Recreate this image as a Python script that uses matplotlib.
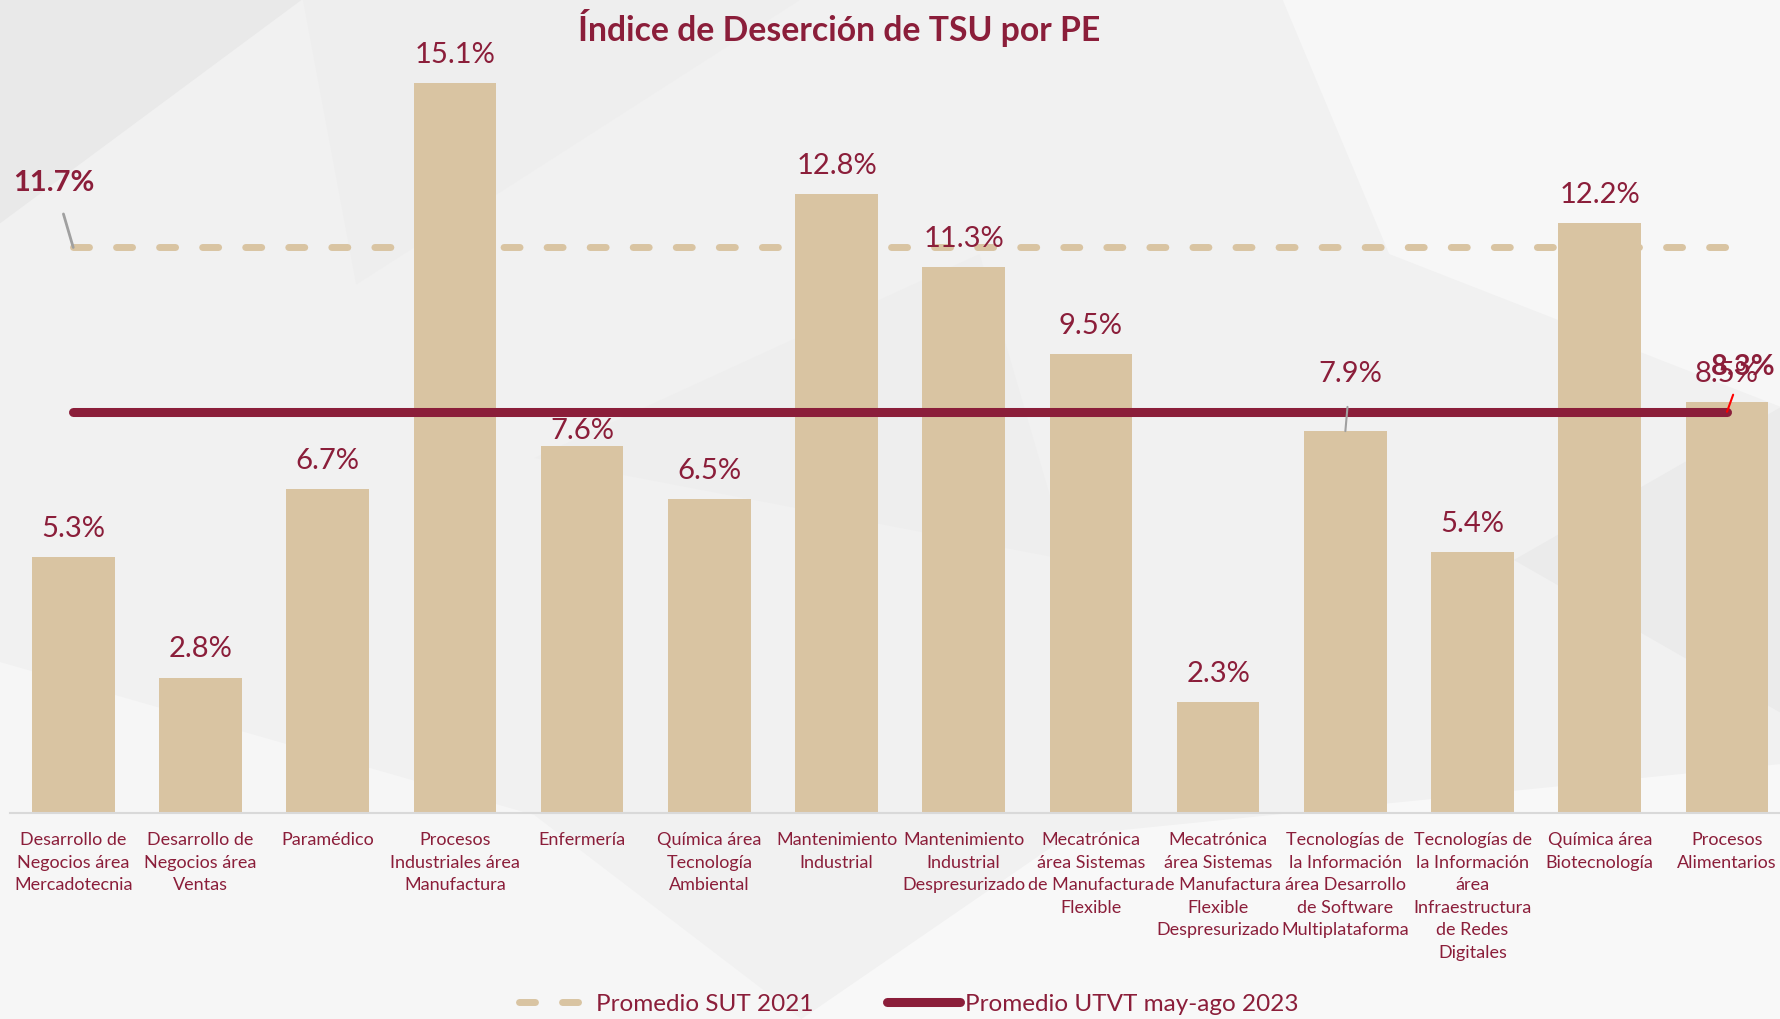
import matplotlib
matplotlib.use("Agg")
import matplotlib.pyplot as plt
from matplotlib.patches import Polygon

# data
categories = [
    "Desarrollo de\nNegocios área\nMercadotecnia",
    "Desarrollo de\nNegocios área\nVentas",
    "Paramédico",
    "Procesos\nIndustriales área\nManufactura",
    "Enfermería",
    "Química área\nTecnología\nAmbiental",
    "Mantenimiento\nIndustrial",
    "Mantenimiento\nIndustrial\nDespresurizado",
    "Mecatrónica\nárea Sistemas\nde Manufactura\nFlexible",
    "Mecatrónica\nárea Sistemas\nde Manufactura\nFlexible\nDespresurizado",
    "Tecnologías de\nla Información\nárea Desarrollo\nde Software\nMultiplataforma",
    "Tecnologías de\nla Información\nárea\nInfraestructura\nde Redes\nDigitales",
    "Química área\nBiotecnología",
    "Procesos\nAlimentarios",
]
desercion = [5.3, 2.8, 6.7, 15.1, 7.6, 6.5, 12.8, 11.3, 9.5, 2.3, 7.9, 5.4, 12.2, 8.5]
promedio_sut_2021 = 11.7
promedio_utvt_2023 = 8.3

RED = "#8B1E3A"
TAN = "#D9C4A2"
plt.rcParams["font.family"] = ["Lato", "DejaVu Sans"]

fig = plt.figure(figsize=(17.81, 10.20), dpi=100)
fig.patch.set_facecolor("#f1f1f1")

# soft polygon background
shapes = [
    ([(0, 1), (0.17, 1), (0, 0.78)], "#e9e9e9"),
    ([(0.17, 1), (0.45, 1), (0.2, 0.72)], "#eeeeee"),
    ([(0.72, 1), (1, 1), (1, 0.6), (0.78, 0.75)], "#f7f7f7"),
    ([(0, 0.35), (0.3, 0.2), (0.45, 0), (0, 0)], "#f6f6f6"),
    ([(0.45, 0), (0.6, 0.18), (1, 0.25), (1, 0)], "#f8f8f8"),
    ([(0.3, 0.55), (0.55, 0.75), (0.6, 0.45)], "#eeeeee"),
    ([(0.85, 0.45), (1, 0.6), (1, 0.3)], "#ebebeb"),
]
for pts, c in shapes:
    fig.patches.append(Polygon(pts, closed=True, transform=fig.transFigure,
                               facecolor=c, edgecolor="none", zorder=-5))

ax = fig.add_axes([0.0054, 0.202, 1.0, 0.798])
ax.set_facecolor("none")

x = list(range(len(categories)))
bars = ax.bar(x, desercion, width=0.65, color=TAN, zorder=2)

ax.plot(x, [promedio_sut_2021] * len(x), color=TAN, lw=5, dashes=(2.3, 3.9),
        dash_capstyle="round", zorder=3, label="Promedio SUT 2021")
ax.plot(x, [promedio_utvt_2023] * len(x), color=RED, lw=6.5,
        solid_capstyle="round", zorder=3, label="Promedio UTVT may-ago 2023")

for i, v in enumerate(desercion):
    if i == 10:
        ax.annotate(f"{v}%", xy=(i, v), xytext=(i + 0.04, v + 1.2),
                    ha="center", va="center", fontsize=21, color=RED,
                    arrowprops=dict(arrowstyle="-", color="#a0a0a0", lw=1.5,
                                    shrinkA=13, shrinkB=0))
    else:
        off = 11 if i == 4 else 21
        ax.annotate(f"{v}%", xy=(i, v), xytext=(0, off), textcoords="offset points",
                    ha="center", va="center", fontsize=21, color=RED, zorder=4)

ax.annotate(f"{promedio_sut_2021}%", xy=(0, promedio_sut_2021), xytext=(-0.15, 13.05),
            ha="center", va="center", fontsize=21, fontweight="bold", color=RED,
            annotation_clip=False,
            arrowprops=dict(arrowstyle="-", color="#a0a0a0", lw=2, shrinkA=12, shrinkB=0))
ax.annotate(f"{promedio_utvt_2023}%", xy=(13, promedio_utvt_2023), xytext=(13.13, 9.25),
            ha="center", va="center", fontsize=21, fontweight="bold", color=RED,
            annotation_clip=False,
            arrowprops=dict(arrowstyle="-", color="red", lw=1.5, shrinkA=10, shrinkB=0))

ax.set_xlim(-0.5, len(categories) - 0.5)
ax.set_ylim(0, 16.84)
ax.set_xticks(x)
ax.set_xticklabels(categories, fontsize=13, color=RED, linespacing=1.5)
ax.tick_params(axis="x", length=0, pad=13)
ax.set_yticks([])
for s in ["top", "right", "left"]:
    ax.spines[s].set_visible(False)
ax.spines["bottom"].set_color("#d9d9d9")
ax.spines["bottom"].set_linewidth(1.5)

fig.text(0.471, 0.973, "Índice de Deserción de TSU por PE", ha="center", va="center",
         fontsize=24.3, fontweight="bold", color=RED)

leg = fig.legend(loc="center", bbox_to_anchor=(0.51, 0.015), ncol=2, frameon=False,
                 fontsize=17.5, handlelength=3.0, columnspacing=3.0, handletextpad=0.2)
for t in leg.get_texts():
    t.set_color(RED)

fig.savefig("out.png", dpi=100, facecolor=fig.get_facecolor())
